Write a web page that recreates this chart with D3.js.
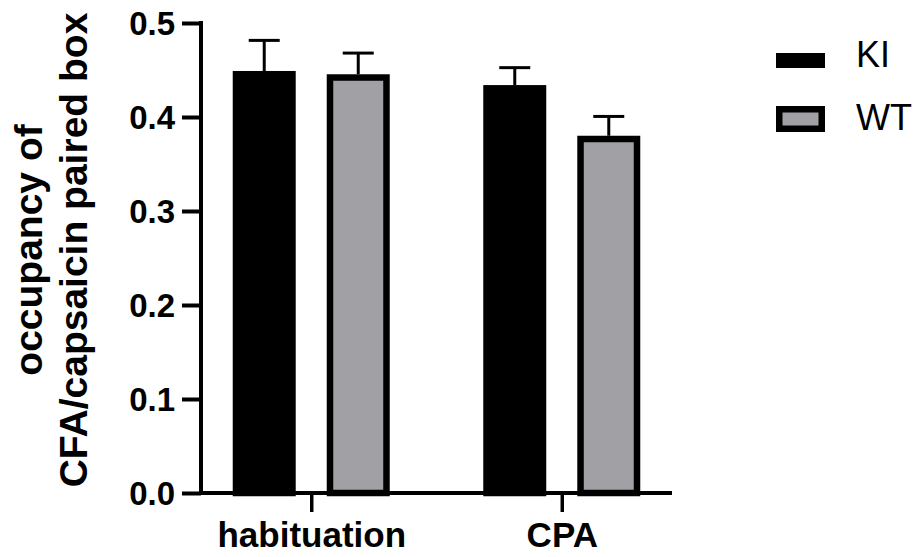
<!DOCTYPE html>
<html>
<head>
<meta charset="utf-8">
<script src="https://cdn.jsdelivr.net/npm/d3@7"></script>
<style>
	body { margin: 0; background: #fff; }
	text { font-family: 'Liberation Sans', Arial, sans-serif; }
</style>
</head>
<body>
<svg id="chart" width="920" height="557"></svg>
<script>
const categories = ['habituation', 'CPA']
const groups = ['KI', 'WT']
const means = {
	KI: [0.4455, 0.4305],
	WT: [0.442, 0.3766]
}
const sems = {
	KI: [0.036, 0.022],
	WT: [0.026, 0.024]
}
const yTicks = [0, 0.1, 0.2, 0.3, 0.4, 0.5]
const titleLines = ['occupancy of', 'CFA/capsaicin paired box']

const fills = { KI: '#000000', WT: '#a1a0a5' }
const BAR_STROKE = 6.5

const svg = d3.select('#chart')

const scale = {}
scale.y = d3.scaleLinear().domain([0, 0.5]).range([493, 23])
scale.x = d3.scalePoint().domain(categories).range([201, 672]).padding(0.44)
scale.group = d3.scaleBand().domain(groups).range([-78.5, 78.5]).paddingInner(0.33)

// y axis
const yAxis = svg.append('g')
	.attr('transform', 'translate(201,0)')
	.call(d3.axisLeft(scale.y).tickValues(yTicks).tickFormat(d3.format('.1f')).tickSize(19).tickPadding(7))

yAxis.select('.domain').remove()
yAxis.selectAll('.tick line').attr('stroke', '#000').attr('stroke-width', 4)
yAxis.selectAll('.tick text')
	.attr('font-size', 33)
	.attr('font-weight', 'bold')
	.attr('fill', '#000')
	.attr('dy', '0.36em')

// bars
const data = []
categories.forEach((c, i) => {
	groups.forEach(g => {
		data.push({ cat: c, group: g, mean: means[g][i], sem: sems[g][i] })
	})
})

const barG = svg.append('g')

barG.selectAll('rect')
	.data(data)
	.enter()
	.append('rect')
	.attr('x', d => scale.x(d.cat) + scale.group(d.group) + BAR_STROKE / 2)
	.attr('width', scale.group.bandwidth() - BAR_STROKE)
	.attr('y', d => scale.y(d.mean))
	.attr('height', d => scale.y(0) - scale.y(d.mean))
	.attr('fill', d => fills[d.group])
	.attr('stroke', '#000')
	.attr('stroke-width', BAR_STROKE)

// error bars (upper only)
const errG = barG.selectAll('g.err')
	.data(data)
	.enter()
	.append('g')
	.attr('class', 'err')
	.attr('stroke', '#000')
	.attr('stroke-width', 3)

errG.append('line')
	.attr('x1', d => scale.x(d.cat) + scale.group(d.group) + scale.group.bandwidth() / 2)
	.attr('x2', d => scale.x(d.cat) + scale.group(d.group) + scale.group.bandwidth() / 2)
	.attr('y1', d => scale.y(d.mean) - BAR_STROKE / 2)
	.attr('y2', d => scale.y(d.mean + d.sem))

errG.append('line')
	.attr('x1', d => scale.x(d.cat) + scale.group(d.group) + scale.group.bandwidth() / 2 - 15.5)
	.attr('x2', d => scale.x(d.cat) + scale.group(d.group) + scale.group.bandwidth() / 2 + 15.5)
	.attr('y1', d => scale.y(d.mean + d.sem))
	.attr('y2', d => scale.y(d.mean + d.sem))

// axis lines on top
svg.append('line')
	.attr('x1', 201).attr('x2', 201)
	.attr('y1', scale.y(0.5) - 2).attr('y2', scale.y(0) + 2)
	.attr('stroke', '#000').attr('stroke-width', 4)

const xAxis = svg.append('g')
	.attr('transform', `translate(0,${scale.y(0)})`)
	.call(d3.axisBottom(scale.x).tickSize(19).tickPadding(10))

xAxis.select('.domain')
	.attr('d', 'M199,0H672')
	.attr('stroke', '#000')
	.attr('stroke-width', 4)
xAxis.selectAll('.tick line').attr('stroke', '#000').attr('stroke-width', 3.5)
xAxis.selectAll('.tick text')
	.attr('font-size', 35)
	.attr('font-weight', 'bold')
	.attr('fill', '#000')

// y title
svg.append('text')
	.attr('transform', 'translate(42,250) rotate(-90)')
	.attr('text-anchor', 'middle')
	.attr('font-size', 39)
	.attr('font-weight', 'bold')
	.selectAll('tspan')
	.data(titleLines)
	.enter()
	.append('tspan')
	.attr('x', 0)
	.attr('dy', (d, i) => i === 0 ? 0 : 45)
	.text(d => d)

// legend
const legend = svg.append('g')
const legendRow = legend.selectAll('g')
	.data(groups)
	.enter()
	.append('g')

legendRow.append('rect')
	.attr('x', d => d === 'KI' ? 776 : 776 + BAR_STROKE / 2)
	.attr('y', d => d === 'KI' ? 53 : 106 + BAR_STROKE / 2)
	.attr('width', d => d === 'KI' ? 49 : 49 - BAR_STROKE)
	.attr('height', d => d === 'KI' ? 15 : 26 - BAR_STROKE)
	.attr('fill', d => fills[d])
	.attr('stroke', d => d === 'KI' ? 'none' : '#000')
	.attr('stroke-width', BAR_STROKE)

legendRow.append('text')
	.attr('x', 856)
	.attr('y', d => d === 'KI' ? 67 : 130)
	.attr('font-size', 36)
	.text(d => d)
</script>
</body>
</html>
